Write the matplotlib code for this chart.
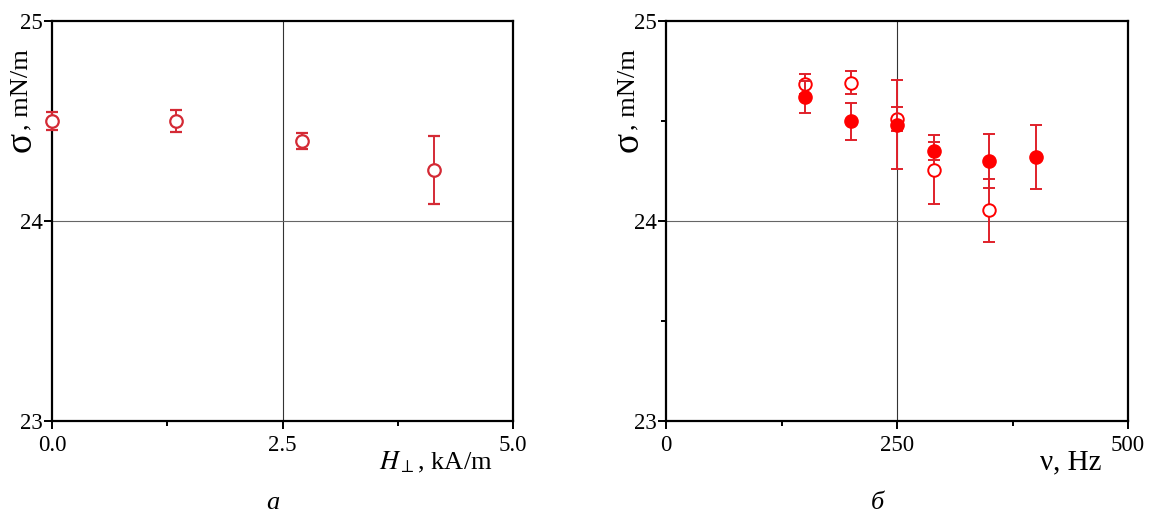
import numpy as np
import matplotlib
matplotlib.use("Agg")
import matplotlib.pyplot as plt

plt.rcParams['font.family'] = ['Liberation Serif', 'DejaVu Serif']
plt.rcParams['mathtext.fontset'] = 'stix'

# panel a: sigma vs H
h_field = [0.0, 1.35, 2.71, 4.14]
sigma_h = [24.50, 24.50, 24.40, 24.255]
err_h = [0.045, 0.057, 0.042, 0.172]

# panel b: sigma vs frequency
nu_open = [150, 200, 250, 290, 350]
sigma_open = [24.685, 24.692, 24.512, 24.257, 24.053]
err_open = [0.05, 0.057, 0.06, 0.174, 0.158]

nu_fill = [150, 200, 250, 290, 350, 400]
sigma_fill = [24.618, 24.498, 24.482, 24.350, 24.300, 24.320]
err_fill = [0.08, 0.093, 0.224, 0.047, 0.137, 0.16]

red_dark = '#d42a35'
red = '#ff0000'

fig = plt.figure(figsize=(11.51, 5.18), dpi=100)
ax1 = fig.add_axes([52/1151, 97/518, 461/1151, 400/518])
ax2 = fig.add_axes([666/1151, 97/518, 462/1151, 400/518])


def style_axes(ax, xmax, xticks, xminor, yminor):
    ax.set_xlim(0, xmax)
    ax.set_ylim(23, 25)
    ax.set_xticks(xticks)
    ax.set_xticks(xminor, minor=True)
    ax.set_yticks([23, 24, 25])
    if yminor:
        ax.set_yticks(yminor, minor=True)
    ax.axvline(xmax/2, color='#333333', lw=0.8, zorder=0)
    ax.axhline(24, color='#666666', lw=0.8, zorder=0)
    for s in ax.spines.values():
        s.set_linewidth(1.6)
    ax.tick_params(which='both', direction='out', width=1.4, labelsize=16.5)
    ax.tick_params(which='major', length=6)
    ax.tick_params(which='minor', length=3.5)
    ax.tick_params(axis='x', pad=4)
    ax.tick_params(axis='y', pad=0.5)


style_axes(ax1, 5.0, [0.0, 2.5, 5.0], [1.25, 3.75], None)
ax1.set_xticklabels(['0.0', '2.5', '5.0'])
ax1.errorbar(h_field, sigma_h, yerr=err_h, fmt='o', ms=9, mfc='white',
             mec=red_dark, mew=1.6, ecolor=red_dark, elinewidth=1.4,
             capsize=4.5, capthick=1.4, clip_on=False, zorder=3)

style_axes(ax2, 500, [0, 250, 500], [125, 375], [23.5, 24.5])
ax2.errorbar(nu_open, sigma_open, yerr=err_open, fmt='o', ms=9, mfc='white',
             mec=red, mew=1.4, ecolor='#e0202a', elinewidth=1.4,
             capsize=4.5, capthick=1.4, zorder=3)
ax2.errorbar(nu_fill, sigma_fill, yerr=err_fill, fmt='o', ms=9.5, mfc=red,
             mec=red, ecolor='#e0202a', elinewidth=1.4,
             capsize=4.5, capthick=1.4, zorder=4)

# axis labels: big sigma, then units
for x0 in (21, 628):
    fig.text(x0/1151, 1-142/518, 'σ', rotation=90, fontsize=27,
             ha='center', va='center')
    fig.text(x0/1151, 1-130/518, ', mN/m', rotation=90, fontsize=19,
             ha='center', va='bottom')
fig.text(493/1151, 1-469/518, r'$H_{\perp}$, kA/m', fontsize=19,
         ha='right', va='baseline')
fig.text(1101/1151, 1-469/518, 'ν, Hz', fontsize=21,
         ha='right', va='baseline')

# captions
fig.text(273/1151, 1-503/518, 'а', fontsize=19, style='italic',
         ha='center', va='center')
fig.text(877/1151, 1-503/518, 'б', fontsize=19, style='italic',
         ha='center', va='center')

plt.savefig('out.png', dpi=100)
